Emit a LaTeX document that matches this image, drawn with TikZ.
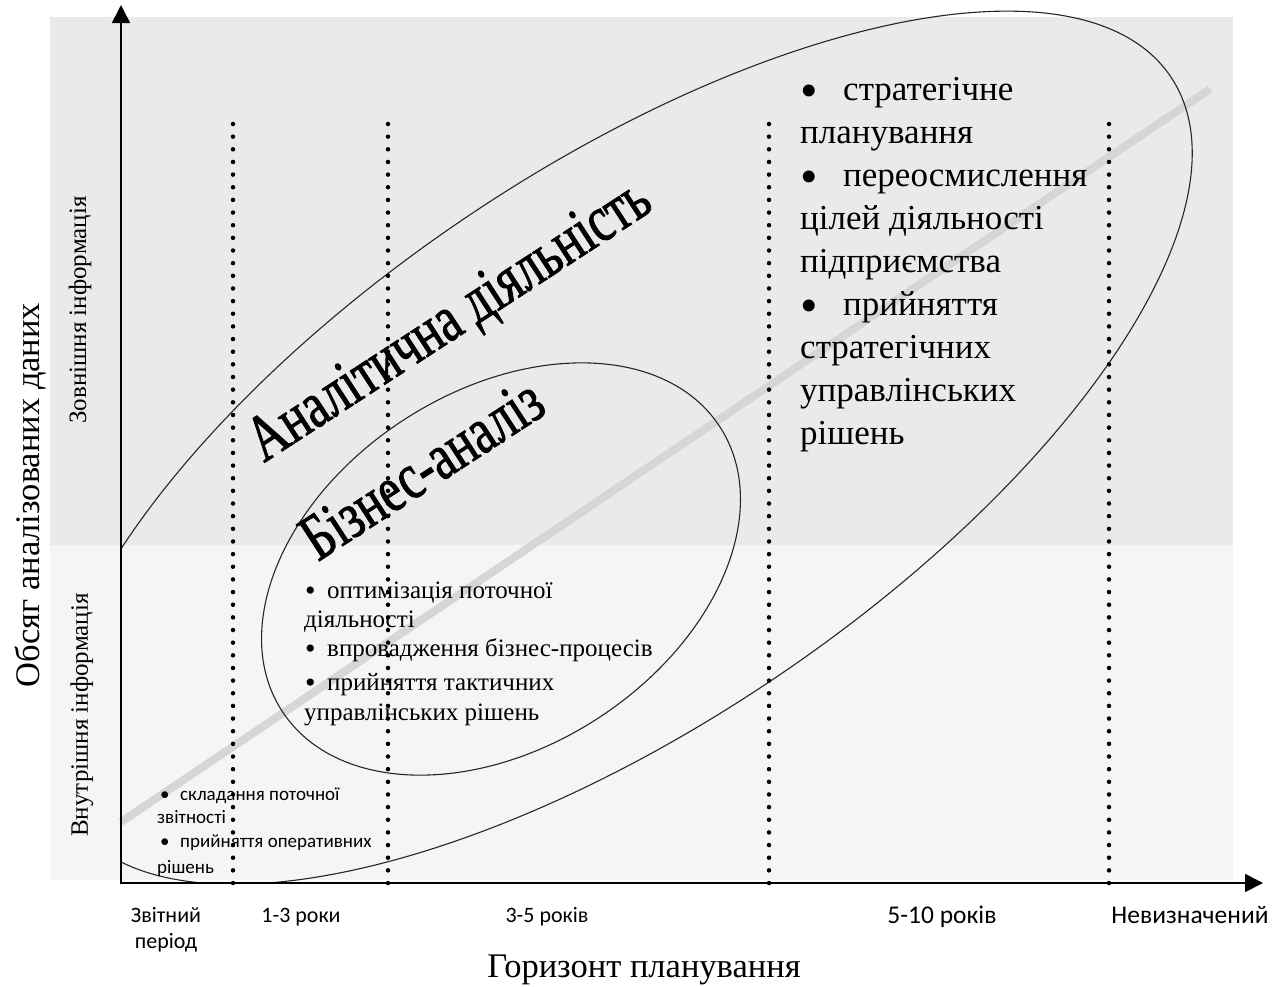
\documentclass[tikz,border=0pt]{standalone}
\usepackage{fontspec}
\setmainfont{Liberation Serif}
\newfontfamily\bodyserif{Liberation Serif}
\newfontfamily\labelsans{Carlito}
\newfontfamily\tallserif{Liberation Serif}[FakeStretch=0.74, FakeBold=1.3]
\usetikzlibrary{arrows.meta}

\definecolor{upperband}{HTML}{E9EAEC}
\definecolor{lowerband}{HTML}{F5F5F5}
\definecolor{trendgrey}{HTML}{D6D6D6}

\tikzset{
  axisline/.style={line width=1.6pt, {Triangle[length=18pt,width=18pt]}-{Triangle[length=18pt,width=18pt]}},
  periodline/.style={line width=4.5pt, line cap=round, dash pattern=on 0pt off 12.65pt},
  oval/.style={line width=1.1pt, draw=black!85},
  strategy/.style={font=\bodyserif\fontsize{35}{43}\selectfont, anchor=base west, inner sep=0pt},
  strategybullet/.style={font=\bodyserif\fontsize{50}{50}\selectfont, anchor=base west, inner sep=0pt},
  tactic/.style={font=\bodyserif\fontsize{25}{30}\selectfont, anchor=base west, inner sep=0pt},
  tacticbullet/.style={font=\bodyserif\fontsize{30}{30}\selectfont, anchor=base west, inner sep=0pt},
  operative/.style={font=\labelsans\fontsize{19}{24}\selectfont, anchor=base west, inner sep=0pt},
  period/.style={font=\labelsans\fontsize{22}{28}\selectfont, anchor=base, inner sep=0pt},
  longperiod/.style={font=\labelsans\fontsize{25.5}{30}\selectfont, anchor=base, inner sep=0pt},
  zone/.style={font=\bodyserif\fontsize{25}{30}\selectfont, rotate=90, inner sep=0pt},
  axistitle/.style={font=\bodyserif\fontsize{34.5}{40}\selectfont, inner sep=0pt},
  areatitle/.style={font=\tallserif\fontsize{66}{76}\selectfont, rotate=33, anchor=base west, inner sep=0pt},
}

\begin{document}
\begin{tikzpicture}[x=1pt,y=-1pt]
\useasboundingbox (0,0) rectangle (1282,986);

% information bands
\fill[upperband] (50,17) rectangle (1233,545);
\fill[lowerband] (50,545) rectangle (1233,880);

% growth trend
\coordinate (trendstart) at (121,822);
\coordinate (trendend) at (1210,89);
\draw[trendgrey, line width=8pt] (trendstart) -- (trendend);

% analytical activity (outer) and business analysis (inner) areas
\begin{scope}
  \clip (121,0) rectangle (1282,883);
  \draw[oval, rotate around={34:(620.5,447.7)}] (620.5,447.7) ellipse [x radius=663.6, y radius=277.3];
\end{scope}
\draw[oval, rotate around={33:(501,569)}] (501,569) ellipse [x radius=261, y radius=178];

% planning period borders
\foreach \x/\n in {233/a,388/b,769/c,1109/d} {
  \coordinate (foot\n) at (\x,883);
  \coordinate (top\n) at (\x,119);
  \draw[periodline] (foot\n) -- (top\n);
}

% axes
\coordinate (origin) at (121,883);
\coordinate (ytip) at (121,5);
\coordinate (xtip) at (1263,883);
\draw[axisline] (ytip) -- (origin) -- (xtip);

% axis titles
\node[axistitle, rotate=90] (ytitle) at (30,495) {Обсяг аналізованих даних};
\node[axistitle] (xtitle) at (644,970) {Горизонт планування};
\node[zone] (outerinfo) at (80,310) {Зовнішня інформація};
\node[zone] (innerinfo) at (82,715) {Внутрішня інформація};

% period labels
\node[period] (p0a) at (166,922) {Звітний};
\node[period] (p0b) at (166,948) {період};
\node[period] (p1) at (301,922) {1-3 роки};
\node[period] (p2) at (547,922) {3-5 років};
\node[longperiod] (p3) at (942,923) {5-10 років};
\node[longperiod] (p4) at (1190,923) {Невизначений};

% area titles
\node[areatitle] (analytics) at (264,463) {Аналітична діяльність};
\node[areatitle] (business) at (318,562) {Бізнес-аналіз};

% strategic tasks
\node[strategybullet] (sb1) at (800,107) {•};
\node[strategy] (s1) at (843,100) {стратегічне};
\node[strategy] (s2) at (800,143) {планування};
\node[strategybullet] (sb2) at (800,193) {•};
\node[strategy] (s3) at (843,186) {переосмислення};
\node[strategy] (s4) at (800,229) {цілей діяльності};
\node[strategy] (s5) at (800,272) {підприємства};
\node[strategybullet] (sb3) at (800,322) {•};
\node[strategy] (s6) at (843,315) {прийняття};
\node[strategy] (s7) at (800,358) {стратегічних};
\node[strategy] (s8) at (800,401) {управлінських};
\node[strategy] (s9) at (800,444) {рішень};

% tactical tasks
\node[tacticbullet] (tb1) at (305,600) {•};
\node[tactic] (t1) at (327,598) {оптимізація поточної};
\node[tactic] (t2) at (304,627) {діяльності};
\node[tacticbullet] (tb2) at (305,658) {•};
\node[tactic] (t3) at (327,656) {впровадження бізнес-процесів};
\node[tacticbullet] (tb3) at (305,692) {•};
\node[tactic] (t4) at (327,690) {прийняття тактичних};
\node[tactic] (t5) at (304,720) {управлінських рішень};

% operative tasks
\node[operative] (ob1) at (160,800) {•};
\node[operative] (o1) at (180,800) {складання поточної};
\node[operative] (o2) at (157,823) {звітності};
\node[operative] (ob2) at (160,847) {•};
\node[operative] (o3) at (180,847) {прийняття оперативних};
\node[operative] (o4) at (157,873) {рішень};
\end{tikzpicture}
\end{document}
